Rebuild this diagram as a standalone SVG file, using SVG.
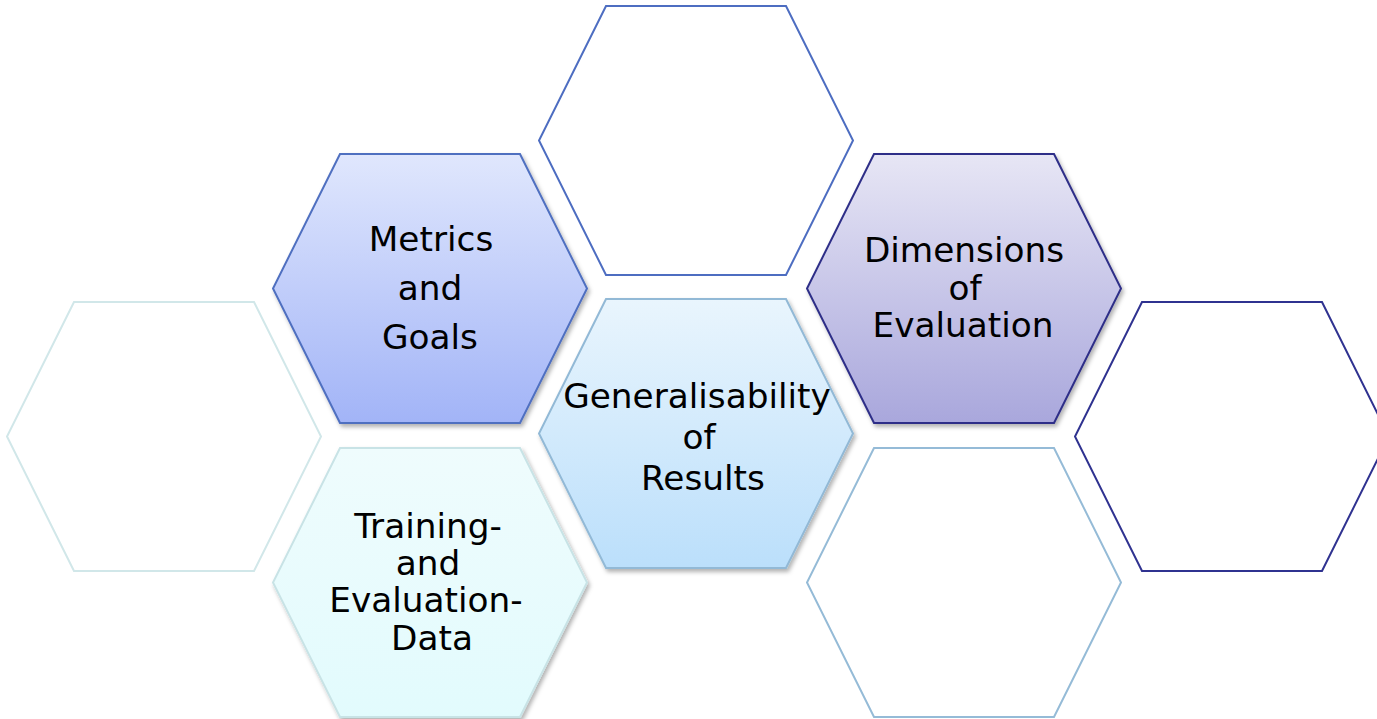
<svg xmlns="http://www.w3.org/2000/svg" width="1377" height="719" viewBox="0 0 1377 719">
  <defs>
    <linearGradient id="gMetrics" x1="0" y1="0" x2="0" y2="1">
      <stop offset="0" stop-color="#e0e7fd"/>
      <stop offset="1" stop-color="#a2b4f7"/>
    </linearGradient>
    <linearGradient id="gGeneral" x1="0" y1="0" x2="0" y2="1">
      <stop offset="0" stop-color="#e9f5fd"/>
      <stop offset="1" stop-color="#bbdffb"/>
    </linearGradient>
    <linearGradient id="gDimensions" x1="0" y1="0" x2="0" y2="1">
      <stop offset="0" stop-color="#e7e6f5"/>
      <stop offset="1" stop-color="#a9a7dc"/>
    </linearGradient>
    <linearGradient id="gTraining" x1="0" y1="0" x2="0" y2="1">
      <stop offset="0" stop-color="#effcfd"/>
      <stop offset="1" stop-color="#e2fbfd"/>
    </linearGradient>
    <filter id="shadow" x="-10%" y="-10%" width="125%" height="125%">
      <feDropShadow dx="2" dy="3" stdDeviation="2" flood-color="#000" flood-opacity="0.3"/>
    </filter>
    <!-- one hexagon, 314 wide and 269 tall, anchored at the top-left of its bounding box -->
    <polygon id="hex" points="67,0 247,0 314,134.5 247,269 67,269 0,134.5"/>
  </defs>
  <style>
    .outline { fill: #ffffff; stroke-width: 2; }
    .filled { stroke-width: 2; filter: url(#shadow); }
    .label { font-family: "DejaVu Sans", Verdana, sans-serif; font-size: 34.3px; fill: #000000; text-anchor: middle; }
  </style>

  <g id="connectors"></g>

  <!-- empty outline cells -->
  <g id="hex-top">
    <use href="#hex" x="539" y="6" class="outline" stroke="#4d6dc1"/>
  </g>
  <g id="hex-left">
    <use href="#hex" x="7" y="302" class="outline" stroke="#d1e7e9"/>
  </g>
  <g id="hex-bottom-right">
    <use href="#hex" x="807" y="448" class="outline" stroke="#95bbd7"/>
  </g>
  <g id="hex-right">
    <use href="#hex" x="1075" y="302" class="outline" stroke="#2f3290"/>
  </g>

  <!-- labelled cells -->
  <g id="metrics-goals">
    <use href="#hex" x="273" y="154" class="filled" fill="url(#gMetrics)" stroke="#4f6fc0"/>
    <text class="label" x="431" y="251">Metrics</text>
    <text class="label" x="430" y="300">and</text>
    <text class="label" x="430" y="349">Goals</text>
  </g>
  <g id="training-evaluation-data">
    <use href="#hex" x="273" y="448" class="filled" fill="url(#gTraining)" stroke="#c8e3e6"/>
    <text class="label" x="428" y="538">Training-</text>
    <text class="label" x="428" y="575">and</text>
    <text class="label" x="426" y="612">Evaluation-</text>
    <text class="label" x="432" y="650">Data</text>
  </g>
  <g id="generalisability">
    <use href="#hex" x="539" y="299" class="filled" fill="url(#gGeneral)" stroke="#92b9d6"/>
    <text class="label" x="697" y="408">Generalisability</text>
    <text class="label" x="699" y="449">of</text>
    <text class="label" x="703" y="490">Results</text>
  </g>
  <g id="dimensions">
    <use href="#hex" x="807" y="154" class="filled" fill="url(#gDimensions)" stroke="#2e2f88"/>
    <text class="label" x="964" y="262">Dimensions</text>
    <text class="label" x="965" y="300">of</text>
    <text class="label" x="963" y="337">Evaluation</text>
  </g>
</svg>
